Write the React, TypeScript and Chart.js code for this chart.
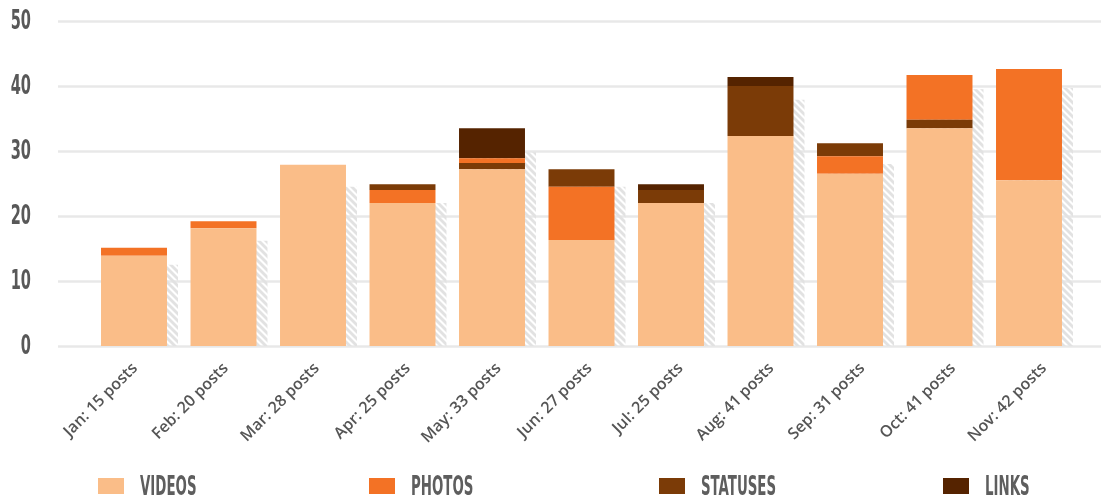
import React, { useEffect, useRef } from 'react';
import { Chart, registerables } from 'chart.js';

Chart.register(...registerables);

// ---------- data ----------
const categories = [
  'Jan: 15 posts', 'Feb: 20 posts', 'Mar: 28 posts', 'Apr: 25 posts', 'May: 33 posts',
  'Jun: 27 posts', 'Jul: 25 posts', 'Aug: 41 posts', 'Sep: 31 posts', 'Oct: 41 posts', 'Nov: 42 posts',
];
const videos = [13.9, 18.1, 27.9, 22.0, 27.2, 16.3, 22.0, 32.3, 26.5, 33.5, 25.5];
const photos = [1.2, 1.1, 0, 2.0, 0.75, 8.2, 0, 0, 2.7, 6.9, 17.1];
const statuses = [0, 0, 0, 0.9, 0.95, 2.7, 2.0, 7.7, 2.0, 1.3, 0];
const links = [0, 0, 0, 0, 4.6, 0, 0.9, 1.4, 0, 0, 0];
// in these months the statuses segment sits below the photos segment
const statusesBelowPhotos = [false, false, false, false, true, false, false, false, false, true, false];
const previous = [12.5, 16.2, 24.5, 22.0, 29.8, 24.5, 22.0, 37.9, 28.0, 39.5, 39.7];
const yTicks = [0, 10, 20, 30, 40, 50];

const seriesNames = ['VIDEOS', 'PHOTOS', 'STATUSES', 'LINKS'];
const seriesColors = ['#FABD88', '#F37225', '#7B3B07', '#552300'];

// ---------- layout / styles ----------
const W = 1101;
const H = 504;
const AREA_LEFT = 89.5;
const AREA_RIGHT = 1089.5;
const AREA_TOP = 21;
const AREA_BOTTOM = 346;
const GRID_LEFT = 58;
const FIRST_BAR_CENTER = 134;
const BAR_PITCH = 89.5;
const SHADOW_SHIFT = 11;
const LEGEND_LEFTS = [98, 369, 659, 943];
const CONDENSED = '"Liberation Sans Narrow", "DejaVu Sans Condensed", "DejaVu Sans", sans-serif';
const Y_LABEL_RIGHT = 31;
const Y_LABEL_SCALE_X = 0.6;

// range of the hidden bar axis so that bars sit at the reference pitch
const BAR_AXIS_MIN = -(FIRST_BAR_CENTER - AREA_LEFT) / BAR_PITCH;
const BAR_AXIS_MAX = BAR_AXIS_MIN + (AREA_RIGHT - AREA_LEFT) / BAR_PITCH;

function makeHatch(): CanvasPattern | string {
  const s = 7;
  const c = document.createElement('canvas');
  c.width = s;
  c.height = s;
  const g = c.getContext('2d');
  if (!g) return '#eeeeee';
  g.strokeStyle = '#e2e2e2';
  g.lineWidth = 2.8;
  for (const off of [-s, 0, s]) {
    g.beginPath();
    g.moveTo(-1, -1 + off);
    g.lineTo(s + 1, s + 1 + off);
    g.stroke();
  }
  return g.createPattern(c, 'repeat') || '#eeeeee';
}

const pts = (arr: number[]) => arr.map((v, i) => ({ x: i, y: v }));

// grid lines that run past the plot area, plus condensed y labels
const gridPlugin = {
  id: 'extGrid',
  beforeDatasetsDraw(chart: any) {
    const { ctx } = chart;
    const y = chart.scales.y;
    ctx.save();
    ctx.strokeStyle = '#e8e8e8';
    ctx.lineWidth = 2.5;
    y.ticks.forEach((t: any) => {
      const py = Math.round(y.getPixelForValue(t.value)) + 0.5;
      ctx.beginPath();
      ctx.moveTo(GRID_LEFT, py);
      ctx.lineTo(chart.width, py);
      ctx.stroke();
    });
    ctx.restore();
  },
  afterDraw(chart: any) {
    const { ctx } = chart;
    const y = chart.scales.y;
    ctx.save();
    ctx.fillStyle = '#585858';
    ctx.font = 'bold 27px ' + CONDENSED;
    ctx.textAlign = 'right';
    ctx.textBaseline = 'middle';
    y.ticks.forEach((t: any) => {
      const py = y.getPixelForValue(t.value);
      ctx.save();
      ctx.translate(Y_LABEL_RIGHT, py + 1);
      ctx.scale(Y_LABEL_SCALE_X, 1);
      ctx.fillText(String(t.value), 0, 0);
      ctx.restore();
    });
    ctx.restore();
  },
};

const shadowPlugin = {
  id: 'shadowShift',
  beforeDatasetDraw(chart: any, args: any) {
    if (chart.data.datasets[args.index].stack === 'shadow') {
      chart.ctx.save();
      chart.ctx.translate(SHADOW_SHIFT, 0);
    }
  },
  afterDatasetDraw(chart: any, args: any) {
    if (chart.data.datasets[args.index].stack === 'shadow') {
      chart.ctx.restore();
    }
  },
};

export default function App() {
  const ref = useRef<HTMLCanvasElement | null>(null);

  useEffect(() => {
    document.body.style.margin = '0';
    const canvas = ref.current;
    if (!canvas) return;

    const common = {
      stack: 'main',
      order: 0,
      barPercentage: 0.737,
      categoryPercentage: 1,
      borderWidth: 0,
    };

    const chart = new Chart(canvas, {
      type: 'bar',
      data: {
        datasets: [
          { ...common, label: seriesNames[0], data: pts(videos), backgroundColor: seriesColors[0] },
          {
            ...common,
            label: seriesNames[2] + ' (low)',
            data: pts(statuses.map((v, i) => (statusesBelowPhotos[i] ? v : 0))),
            backgroundColor: seriesColors[2],
          },
          { ...common, label: seriesNames[1], data: pts(photos), backgroundColor: seriesColors[1] },
          {
            ...common,
            label: seriesNames[2],
            data: pts(statuses.map((v, i) => (statusesBelowPhotos[i] ? 0 : v))),
            backgroundColor: seriesColors[2],
          },
          { ...common, label: seriesNames[3], data: pts(links), backgroundColor: seriesColors[3] },
          {
            label: 'previous',
            data: pts(previous),
            stack: 'shadow',
            order: 1,
            grouped: false,
            barPercentage: 0.737,
            categoryPercentage: 1,
            borderWidth: 0,
            backgroundColor: makeHatch() as any,
          } as any,
        ] as any,
      },
      options: {
        responsive: false,
        animation: false,
        layout: { padding: { top: AREA_TOP, right: W - AREA_RIGHT, bottom: 0, left: 0 } },
        plugins: {
          legend: { display: false },
          tooltip: { enabled: false },
        },
        scales: {
          x: {
            type: 'linear',
            display: false,
            offset: false,
            min: BAR_AXIS_MIN,
            max: BAR_AXIS_MAX,
            afterBuildTicks(scale: any) {
              scale.ticks = categories.map((_, i) => ({ value: i }));
            },
          },
          xl: {
            type: 'category',
            labels: categories,
            position: 'bottom',
            offset: true,
            grid: { display: false, drawTicks: false },
            border: { display: false },
            ticks: {
              minRotation: 45,
              maxRotation: 45,
              autoSkip: false,
              padding: 13,
              color: '#555555',
              font: { family: '"Open Sans", sans-serif', size: 16, weight: 600 },
            },
            afterFit(scale: any) {
              scale.height = H - AREA_BOTTOM;
            },
          },
          y: {
            stacked: true,
            min: 0,
            max: 50,
            afterBuildTicks(scale: any) {
              scale.ticks = yTicks.map((v) => ({ value: v }));
            },
            grid: { display: false, drawTicks: false },
            border: { display: false },
            ticks: { display: false },
            afterFit(scale: any) {
              scale.width = AREA_LEFT;
              scale.paddingTop = 0;
              scale.paddingBottom = 0;
            },
          },
        } as any,
      },
      plugins: [gridPlugin, shadowPlugin],
    });

    return () => chart.destroy();
  }, []);

  return (
    <div style={{ position: 'relative', width: W, height: H, overflow: 'hidden' }}>
      <canvas ref={ref} width={W} height={H} style={{ display: 'block' }} />
      {seriesNames.map((name, i) => (
        <div
          key={name}
          style={{ position: 'absolute', left: LEGEND_LEFTS[i], top: 472, height: 30, whiteSpace: 'nowrap' }}
        >
          <span
            style={{
              position: 'absolute',
              left: 0,
              top: 6,
              width: 26,
              height: 16,
              background: seriesColors[i],
            }}
          />
          <span
            style={{
              position: 'absolute',
              left: 42,
              top: 0,
              fontFamily: CONDENSED,
              fontWeight: 'bold',
              fontSize: 27,
              lineHeight: 1,
              color: '#5e5e5e',
              transform: 'scaleX(0.55)',
              transformOrigin: 'left top',
            }}
          >
            {name}
          </span>
        </div>
      ))}
    </div>
  );
}
